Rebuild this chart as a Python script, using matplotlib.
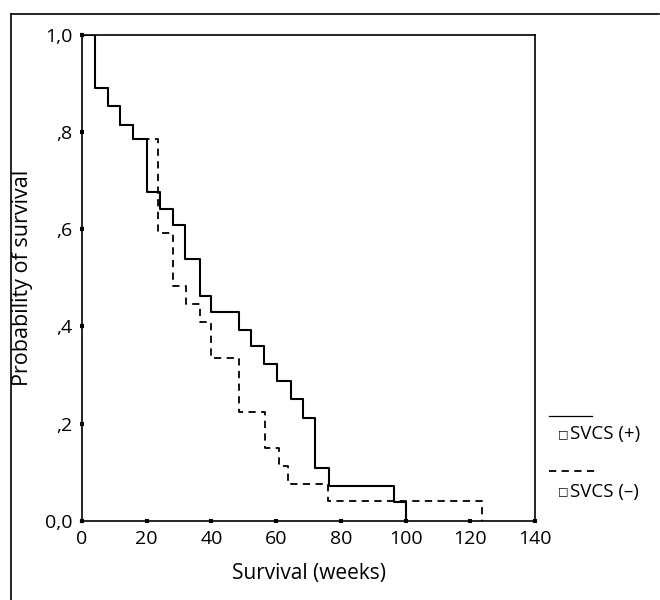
import matplotlib
matplotlib.use("Agg")
import matplotlib.pyplot as plt
from matplotlib.lines import Line2D

plt.rcParams['font.family'] = ['Open Sans', 'DejaVu Sans']

# Kaplan-Meier steps (weeks, survival after the drop)
plus_weeks = [0, 4.0, 8.1, 11.8, 15.9, 20.1, 24.0, 28.1, 32.0, 36.5, 40.0,
              48.4, 52.3, 56.1, 60.2, 64.7, 68.3, 72.1, 76.4, 96.4, 100.1]
plus_surv = [1.0, 0.891, 0.853, 0.814, 0.786, 0.677, 0.641, 0.608, 0.539, 0.463, 0.430,
             0.393, 0.359, 0.323, 0.288, 0.250, 0.212, 0.109, 0.071, 0.038, 0.0]

minus_weeks = [0, 4.0, 8.1, 11.8, 15.9, 23.6, 28.1, 32.2, 36.4, 40.0,
               48.4, 56.4, 60.8, 63.8, 76.0, 123.6]
minus_surv = [1.0, 0.891, 0.853, 0.814, 0.786, 0.593, 0.483, 0.446, 0.410, 0.336,
              0.224, 0.150, 0.113, 0.075, 0.040, 0.0]

x_ticks = [0, 20, 40, 60, 80, 100, 120, 140]
y_ticks = [0.0, 0.2, 0.4, 0.6, 0.8, 1.0]
y_labels = ['0,0', ',2', ',4', ',6', ',8', '1,0']

fig = plt.figure(figsize=(6.6, 6.0), dpi=100)
ax = fig.add_axes([0.124, 0.132, 0.687, 0.81])

ax.step(plus_weeks, plus_surv, where='post', color='black', lw=1.5)
ax.step(minus_weeks, minus_surv, where='post', color='black', lw=1.3,
        linestyle=(0, (4, 3)))

ax.set_xlim(0, 140)
ax.set_ylim(0, 1.0)
ax.set_xticks(x_ticks)
ax.set_yticks(y_ticks)
ax.set_yticklabels(y_labels)
ax.tick_params(direction='inout', length=3, width=3, labelsize=14, pad=5)
for s in ax.spines.values():
    s.set_linewidth(1.2)

ax.set_xlabel('Survival (weeks)', fontsize=15, labelpad=11)
ax.set_ylabel('Probability of survival', fontsize=15.5, labelpad=9)

# legend at the right of the plot
ax.plot([1.03, 1.125], [0.215, 0.215], transform=ax.transAxes, color='black',
        lw=0.9, clip_on=False)
ax.text(1.062, 0.178, '\u25a1', transform=ax.transAxes, fontsize=8,
        family='DejaVu Sans', va='center', ha='center')
ax.text(1.077, 0.178, 'SVCS (+)', transform=ax.transAxes, fontsize=13.5, va='center')
ax.plot([1.03, 1.14], [0.103, 0.103], transform=ax.transAxes, color='black',
        lw=1.3, linestyle=(0, (4, 3)), clip_on=False)
ax.text(1.062, 0.06, '\u25a1', transform=ax.transAxes, fontsize=8,
        family='DejaVu Sans', va='center', ha='center')
ax.text(1.077, 0.06, 'SVCS (\u2013)', transform=ax.transAxes, fontsize=13.5, va='center')

# outer frame (left and top edges)
fig.add_artist(Line2D([0.016, 0.016], [0.0, 0.977], color='black', lw=1.2))
fig.add_artist(Line2D([0.016, 0.998], [0.977, 0.977], color='black', lw=1.2))

fig.savefig('out.png', dpi=100)
